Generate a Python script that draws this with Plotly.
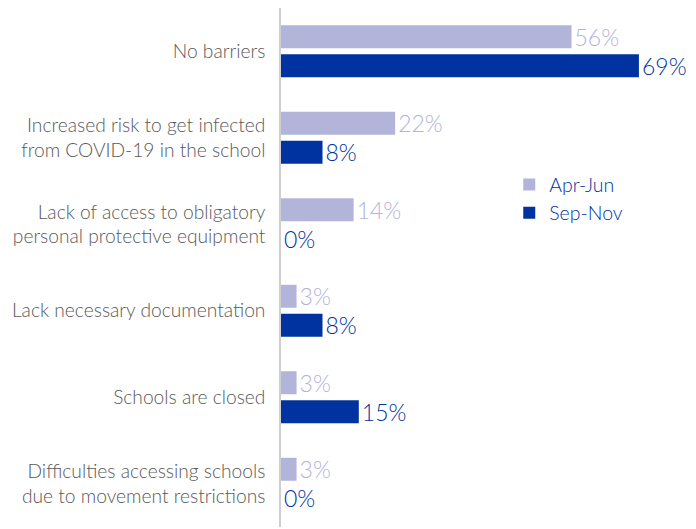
import plotly.graph_objects as go

categories = [
    "No barriers",
    "Increased risk to get infected<br>from COVID-19 in the school",
    "Lack of access to obligatory<br>personal protective equipment",
    "Lack necessary documentation",
    "Schools are closed",
    "Difficulties accessing schools<br>due to movement restrictions",
]
apr_jun = [56, 22, 14, 3, 3, 3]
sep_nov = [69, 8, 0, 8, 15, 0]

LIGHT = "#b2b4da"
DARK = "#0033a0"
FONT = "Lato, Open Sans, sans-serif"

fig = go.Figure()
for name, vals, col in [("Apr-Jun", apr_jun, LIGHT), ("Sep-Nov", sep_nov, DARK)]:
    fig.add_trace(go.Bar(
        y=categories, x=vals, name=name, orientation="h",
        marker=dict(color=col, line=dict(width=0)),
        text=[f"{v}%" for v in vals], textposition="outside",
        constraintext="none",
        textfont=dict(color=col, size=23, family=FONT, weight=300),
        cliponaxis=False,
    ))

fig.update_layout(
    width=696, height=529,
    margin=dict(l=281, r=0, t=8, b=2),
    paper_bgcolor="white", plot_bgcolor="white",
    barmode="group", bargap=0.33, bargroupgap=0.207,
    font=dict(family=FONT, color="#595959", size=18),
    showlegend=True,
    legend=dict(
        x=0.55, y=0.697, xanchor="left", yanchor="top",
        font=dict(color=DARK, size=19.5, family=FONT, weight=300),
        bgcolor="rgba(0,0,0,0)", tracegroupgap=0, itemwidth=30,
    ),
)
fig.update_xaxes(range=[0, 80], visible=False, showgrid=False, zeroline=False)
fig.update_yaxes(
    autorange="reversed", showline=True, linecolor="#cfcfcf", linewidth=1.5,
    showgrid=False, ticks="", ticklabelstandoff=10,
    tickfont=dict(color="#595959", size=19.2, family=FONT, weight=300),
)

fig.write_html("out.html")
